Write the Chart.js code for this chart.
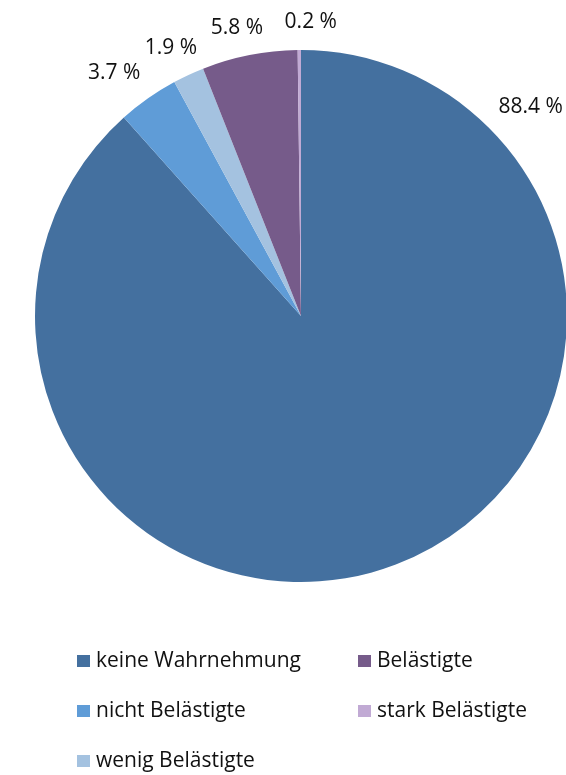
<!DOCTYPE html>
<html lang="de">
<head>
<meta charset="UTF-8">
<title>Belästigung</title>
<script src="https://cdn.jsdelivr.net/npm/chart.js@4.4.3/dist/chart.umd.min.js"></script>
<style>
  html, body { margin: 0; padding: 0; background: #fff; }
  #wrap { width: 566px; height: 775px; overflow: hidden; }
  /* canvas is a bit wider than the page: the pie runs off the right edge like in the original */
  #pie { display: block; }
</style>
</head>
<body>
<div id="wrap"><canvas id="pie" width="600" height="775"></canvas></div>
<script>
const categories = ['keine Wahrnehmung', 'nicht Belästigte', 'wenig Belästigte', 'Belästigte', 'stark Belästigte'];
const shares = [88.4, 3.7, 1.9, 5.8, 0.2];
const colours = ['#44709f', '#5f9cd7', '#a4c2e0', '#765b8a', '#c1aad4'];

// where Excel put each value label: angle (deg, clockwise from top) and distance from the centre
const labelSpots = [
  { a: 47.6, d: 311 },
  { a: -37.5, d: 307 },
  { a: -25.8, d: 299 },
  { a: -12.5, d: 296 },
  { a: 1.9, d: 295 }
];
// legend: column-major, 3 rows
const legendCols = [77, 358];
const legendRows = [655, 705, 755];

const FONT = '21px "Open Sans", sans-serif';

const valueLabels = {
  id: 'valueLabels',
  afterDatasetsDraw(chart) {
    const { ctx } = chart;
    const arc = chart.getDatasetMeta(0).data[0];
    ctx.save();
    ctx.font = FONT;
    ctx.fillStyle = '#111';
    ctx.textAlign = 'center';
    ctx.textBaseline = 'alphabetic';
    shares.forEach((v, i) => {
      const s = labelSpots[i];
      const rad = s.a * Math.PI / 180;
      const x = arc.x + Math.sin(rad) * s.d;
      const y = arc.y - Math.cos(rad) * s.d;
      ctx.fillText(v.toFixed(1) + ' %', x, y + 7);
    });
    ctx.restore();
  }
};

const boxLegend = {
  id: 'boxLegend',
  afterDraw(chart) {
    const { ctx } = chart;
    ctx.save();
    ctx.font = FONT;
    ctx.textBaseline = 'alphabetic';
    categories.forEach((name, i) => {
      const col = Math.floor(i / 3), row = i % 3;
      const x = legendCols[col], y = legendRows[row];
      ctx.fillStyle = colours[i];
      ctx.fillRect(x, y, 13, 12);
      ctx.fillStyle = '#111';
      ctx.fillText(name, x + 19, y + 12);
    });
    ctx.restore();
  }
};

new Chart(document.getElementById('pie'), {
  type: 'pie',
  data: {
    labels: categories,
    datasets: [{
      data: shares,
      backgroundColor: colours,
      borderWidth: 0
    }]
  },
  options: {
    responsive: false,
    animation: false,
    layout: { padding: { left: 35, right: 33, top: 50, bottom: 193 } },
    plugins: {
      legend: { display: false },
      tooltip: { enabled: false }
    }
  },
  plugins: [valueLabels, boxLegend]
});
</script>
</body>
</html>
